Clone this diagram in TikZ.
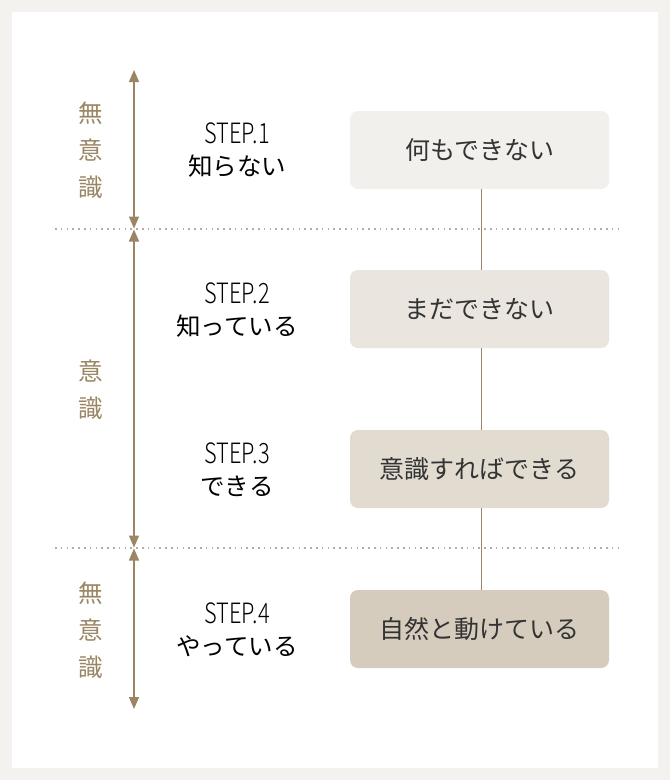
\documentclass[tikz,border=0pt]{standalone}
\usepackage{fontspec}
\setmainfont{Noto Sans CJK JP}
\newfontfamily\jpfont{Noto Sans CJK JP}
\newfontfamily\stepfont[FakeStretch=0.78]{Noto Sans CJK JP Light}
\usetikzlibrary{arrows.meta}
\definecolor{bgout}{HTML}{F3F2EF}
\definecolor{brn}{HTML}{9A8664}
\definecolor{dotc}{HTML}{B3ADA3}
\definecolor{boxa}{HTML}{F2F0EC}
\definecolor{boxb}{HTML}{EAE6DF}
\definecolor{boxc}{HTML}{E1DBD0}
\definecolor{boxd}{HTML}{D5CCBD}
\definecolor{txt}{HTML}{333333}
\begin{document}
\begin{tikzpicture}[x=1pt,y=-1pt,
  stagebox/.style={rounded corners=8pt,minimum width=259pt,minimum height=78pt,inner sep=0pt,
    text=txt,font=\jpfont\fontsize{25}{30}\selectfont},
  steptitle/.style={text=black,inner sep=0pt,font=\stepfont\fontsize{28}{30}\selectfont},
  stepjp/.style={text=black,inner sep=0pt,font=\jpfont\fontsize{24.5}{28}\selectfont},
  sidelbl/.style={text=brn,font=\jpfont\fontsize{24.5}{37}\selectfont,align=center,inner sep=0pt},
  rng/.style={draw=brn,line width=1.6pt,{Triangle[width=10pt,length=12pt]}-{Triangle[width=10pt,length=12pt]}},
  sep/.style={draw=dotc,line width=1.6pt,dash pattern=on 1.6pt off 4.2pt},
  link/.style={draw=brn,line width=0.8pt}]
\fill[bgout] (0,0) rectangle (670,780);
\fill[white] (12,12) rectangle (658,768);
\useasboundingbox (0,0) rectangle (670,780);
% dotted separators
\coordinate (s1l) at (55,229); \coordinate (s1r) at (622,229);
\coordinate (s2l) at (55,548); \coordinate (s2r) at (622,548);
\draw[sep] (s1l) -- (s1r);
\draw[sep] (s2l) -- (s2r);
% range arrows
\coordinate (a0) at (134,70); \coordinate (a1) at (134,228.5);
\coordinate (a2) at (134,229.5); \coordinate (a3) at (134,547.5);
\coordinate (a4) at (134,548.5); \coordinate (a5) at (134,709);
\draw[rng] (a0) -- (a1);
\draw[rng] (a2) -- (a3);
\draw[rng] (a4) -- (a5);
% side labels
\node[sidelbl] (l1) at (91,150) {無\\意\\識};
\node[sidelbl] (l2) at (91,390) {意\\識};
\node[sidelbl] (l3) at (91,630) {無\\意\\識};
% step labels
\node[steptitle] (t1) at (237,133) {STEP.1};
\node[stepjp] (j1) at (237,166) {知らない};
\node[steptitle] (t2) at (237,293) {STEP.2};
\node[stepjp] (j2) at (237,326) {知っている};
\node[steptitle] (t3) at (237,453) {STEP.3};
\node[stepjp] (j3) at (237,486) {できる};
\node[steptitle] (t4) at (237,613) {STEP.4};
\node[stepjp] (j4) at (237,646) {やっている};
% boxes
\node[stagebox,fill=boxa] (b1) at (479.5,150) {何もできない};
\node[stagebox,fill=boxb] (b2) at (479.5,309) {まだできない};
\node[stagebox,fill=boxc] (b3) at (479.5,469) {意識すればできる};
\node[stagebox,fill=boxd] (b4) at (479.5,629) {自然と動けている};
\draw[link] ([xshift=1.5pt]b1.south) -- ([xshift=1.5pt]b2.north);
\draw[link] ([xshift=1.5pt]b2.south) -- ([xshift=1.5pt]b3.north);
\draw[link] ([xshift=1.5pt]b3.south) -- ([xshift=1.5pt]b4.north);
\end{tikzpicture}
\end{document}
